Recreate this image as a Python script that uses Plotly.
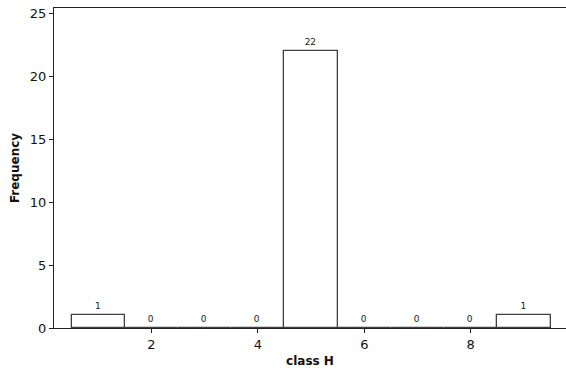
import plotly.graph_objects as go

categories = [1, 2, 3, 4, 5, 6, 7, 8, 9]
frequency = [1, 0, 0, 0, 22, 0, 0, 0, 1]
x_ticks = [2, 4, 6, 8]
y_ticks = [0, 5, 10, 15, 20, 25]

fig = go.Figure(go.Bar(
    x=categories, y=frequency, width=1.0,
    marker=dict(color="white", line=dict(color="#404040", width=1.3)),
    text=[str(v) for v in frequency], textposition="outside",
    textfont=dict(size=9, color="#222", family="DejaVu Sans"),
    cliponaxis=False, hoverinfo="skip",
))

fig.update_layout(
    width=566, height=372,
    margin=dict(l=54, r=0, t=8, b=44),
    paper_bgcolor="white", plot_bgcolor="white",
    font=dict(family="DejaVu Sans", size=12, color="#111"),
    showlegend=False, bargap=0,
    uniformtext=dict(minsize=9, mode="show"),
)
fig.update_xaxes(
    range=[0.17, 9.79], tickmode="array", tickvals=x_ticks,
    ticks="outside", ticklen=4, tickcolor="#222", showgrid=False, zeroline=False,
    showline=True, linecolor="#222", linewidth=1.3, mirror=True,
    title=dict(text="<b>class H</b>", font=dict(size=12), standoff=5),
    tickfont=dict(size=13),
)
fig.update_yaxes(
    range=[0, 25.42], tickmode="array", tickvals=y_ticks,
    ticks="outside", ticklen=4, tickcolor="#222", showgrid=False, zeroline=False,
    showline=True, linecolor="#222", linewidth=1.3, mirror=False,
    title=dict(text="<b>Frequency</b>", font=dict(size=12), standoff=7),
    tickfont=dict(size=13),
)

fig.write_html(
    "out.html",
    config={"displayModeBar": False},
    post_script="document.body.style.margin='0';document.body.style.overflow='hidden';",
)
